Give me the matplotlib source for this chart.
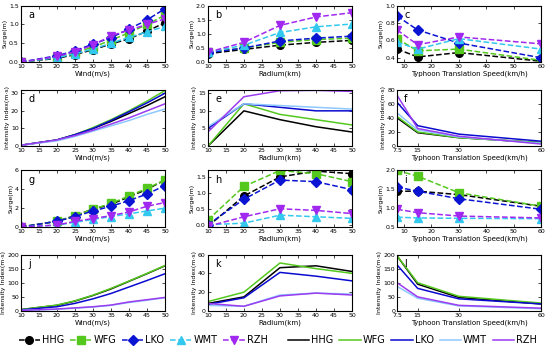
import matplotlib.pyplot as plt
import numpy as np

names = ['HHG', 'WFG', 'LKO', 'WMT', 'RZH']
mcolors = ['black', '#55c81e', '#0a14d2', '#33c8ee', '#a028f0']
lcolors = ['black', '#55c81e', '#0a0ad0', '#8ec8ff', '#9a3cf0']
markers = ['o', 's', 'D', '^', 'v']

wind = [10, 20, 25, 30, 35, 40, 45, 50]
radium = [10, 20, 30, 40, 50]
speed = [7.5, 15, 30, 60]

# surge, first site group
surge_a = [[0, 0.10, 0.20, 0.33, 0.48, 0.62, 0.82, 1.05],
           [0, 0.13, 0.25, 0.40, 0.58, 0.78, 1.00, 1.25],
           [0, 0.17, 0.30, 0.48, 0.65, 0.88, 1.12, 1.42],
           [0, 0.12, 0.22, 0.35, 0.50, 0.66, 0.80, 0.95],
           [0, 0.15, 0.28, 0.45, 0.70, 0.85, 1.00, 1.15]]
surge_b = [[0.30, 0.45, 0.60, 0.70, 0.77],
           [0.35, 0.50, 0.70, 0.80, 0.85],
           [0.33, 0.50, 0.75, 0.85, 0.92],
           [0.35, 0.60, 1.05, 1.25, 1.35],
           [0.35, 0.70, 1.30, 1.60, 1.75]]
surge_c = [[0.50, 0.41, 0.46, 0.36],
           [0.62, 0.48, 0.50, 0.37],
           [0.88, 0.72, 0.57, 0.40],
           [0.58, 0.50, 0.62, 0.50],
           [0.72, 0.55, 0.64, 0.56]]
# intensity, first site group
inten_d = [[0.5, 3.5, 6.5, 10.0, 14.0, 18.5, 23.0, 28.0],
           [0.5, 3.5, 6.5, 10.5, 15.0, 20.0, 25.5, 31.5],
           [0.5, 3.5, 6.5, 10.0, 14.5, 19.5, 24.5, 30.0],
           [0.5, 3.0, 5.5, 8.5, 11.5, 14.5, 18.0, 21.0],
           [0.5, 3.5, 6.0, 9.0, 12.5, 16.0, 20.0, 24.0]]
inten_e = [[0, 10, 7.5, 5.5, 4],
           [0, 12, 9, 7.5, 6],
           [5, 12, 11, 10, 10],
           [5.5, 12, 11.5, 11, 10.5],
           [4, 14, 15.7, 15.8, 15.5]]
inten_f = [[40, 19, 12, 5],
           [42, 20, 12, 5],
           [62, 29, 17, 7],
           [47, 23, 13, 4],
           [72, 25, 14, 3]]
# surge, second site group
surge_g = [[0, 0.6, 1.2, 1.9, 2.4, 3.2, 4.0, 5.0],
           [0, 0.6, 1.2, 1.9, 2.5, 3.3, 4.1, 5.0],
           [0, 0.6, 1.1, 1.7, 2.2, 2.8, 3.5, 4.4],
           [0, 0.2, 0.5, 0.8, 1.1, 1.4, 1.7, 2.0],
           [0, 0.2, 0.6, 0.9, 1.2, 1.6, 2.2, 2.6]]
surge_h = [[-0.05, 0.90, 1.50, 1.68, 1.60],
           [0.15, 1.20, 1.70, 1.60, 1.35],
           [0.00, 0.80, 1.40, 1.35, 1.10],
           [0.00, 0.05, 0.30, 0.25, 0.20],
           [-0.05, 0.25, 0.50, 0.45, 0.35]]
surge_i = [[1.45, 1.45, 1.36, 1.05],
           [2.00, 1.85, 1.41, 1.05],
           [1.56, 1.45, 1.25, 0.97],
           [0.76, 0.74, 0.73, 0.72],
           [0.97, 0.88, 0.79, 0.74]]
# intensity, second site group
inten_j = [[5, 20, 35, 55, 78, 105, 132, 160],
           [5, 21, 36, 56, 80, 106, 133, 161],
           [4, 15, 27, 43, 62, 85, 108, 132],
           [2, 6, 10, 14, 20, 30, 38, 47],
           [2, 7, 11, 15, 21, 32, 40, 48]]
inten_k = [[8, 15, 46, 48, 42],
           [10, 20, 51, 45, 40],
           [7, 14, 41, 37, 32],
           [6, 5, 17, 19, 18],
           [8, 5, 16, 19, 17]]
inten_l = [[195, 95, 48, 25],
           [195, 100, 52, 28],
           [163, 80, 43, 25],
           [87, 45, 18, 8],
           [100, 50, 20, 10]]

panels = [
    ('a', wind, surge_a, True, (10, 50), (0, 1.5), [0, 0.5, 1, 1.5]),
    ('b', radium, surge_b, True, (10, 50), (0, 2), [0, 0.5, 1, 1.5, 2]),
    ('c', speed, surge_c, True, (7.5, 60), (0.35, 1.0), [0.4, 0.6, 0.8, 1]),
    ('d', wind, inten_d, False, (10, 50), (0, 32), [0, 10, 20, 30]),
    ('e', radium, inten_e, False, (10, 50), (0, 16), [0, 5, 10, 15]),
    ('f', speed, inten_f, False, (7.5, 60), (0, 80), [0, 20, 40, 60, 80]),
    ('g', wind, surge_g, True, (10, 50), (0, 6), [0, 2, 4, 6]),
    ('h', radium, surge_h, True, (10, 50), (-0.07, 1.7), [0, 0.5, 1, 1.5]),
    ('i', speed, surge_i, True, (7.5, 60), (0.5, 2), [0.5, 1, 1.5, 2]),
    ('j', wind, inten_j, False, (10, 50), (0, 200), [0, 50, 100, 150, 200]),
    ('k', radium, inten_k, False, (10, 50), (0, 60), [0, 20, 40, 60]),
    ('l', speed, inten_l, False, (7.5, 60), (0, 200), [0, 50, 100, 150, 200]),
]
xlabels = ['Wind(m/s)', 'Radium(km)', 'Typhoon Translation Speed(km/h)']

fig = plt.figure(figsize=(5.5, 3.53), dpi=100)
lefts = [0.038, 0.378, 0.722]
bottoms = [0.824, 0.586, 0.357, 0.119]
w, h = 0.262, 0.160

for n, (letter, x, ys, dashed, xl, yl, yt) in enumerate(panels):
    r, c = divmod(n, 3)
    ax = fig.add_axes([lefts[c], bottoms[r], w, h])
    for k in range(5):
        if dashed:
            ax.plot(x, ys[k], '--', color=mcolors[k], marker=markers[k], ms=5.5,
                    lw=1.1, label=names[k])
        else:
            ax.plot(x, ys[k], '-', color=lcolors[k], lw=1.1, label=names[k])
    ax.set_xlim(xl)
    ax.set_ylim(yl)
    ax.set_yticks(yt)
    if c == 2:
        if dashed:
            ax.set_xticks([10, 20, 30, 40, 50, 60])
        else:
            ax.set_xticks([7.5, 15, 30, 60])
            ax.set_xticklabels(['7.5', '15', '30', '60'])
    else:
        ax.set_xticks([10, 15, 20, 25, 30, 35, 40, 45, 50])
    ax.tick_params(direction='in', top=True, right=True, labelsize=4.5,
                   length=2, width=0.5, pad=1.5)
    for s in ax.spines.values():
        s.set_linewidth(0.8)
    ax.set_xlabel(xlabels[c], fontsize=5, labelpad=1)
    ax.set_ylabel('Surge(m)' if dashed else 'Intensity Index(m·s)',
                  fontsize=4.5, labelpad=1)
    ax.text(0.05, 0.92, letter, transform=ax.transAxes, fontsize=7,
            va='top', ha='left')
    if n == 0:
        h_dash = ax.get_legend_handles_labels()[0]
    if n == 3:
        h_line = ax.get_legend_handles_labels()[0]

fig.legend(h_dash, names, loc='center', bbox_to_anchor=(0.26, 0.037), ncol=5,
           frameon=False, fontsize=7, handlelength=2.2, columnspacing=0.6,
           handletextpad=0.2)
fig.legend(h_line, names, loc='center', bbox_to_anchor=(0.75, 0.037), ncol=5,
           frameon=False, fontsize=7, handlelength=2.2, columnspacing=0.6,
           handletextpad=0.2)

fig.savefig('out.png', dpi=100)
